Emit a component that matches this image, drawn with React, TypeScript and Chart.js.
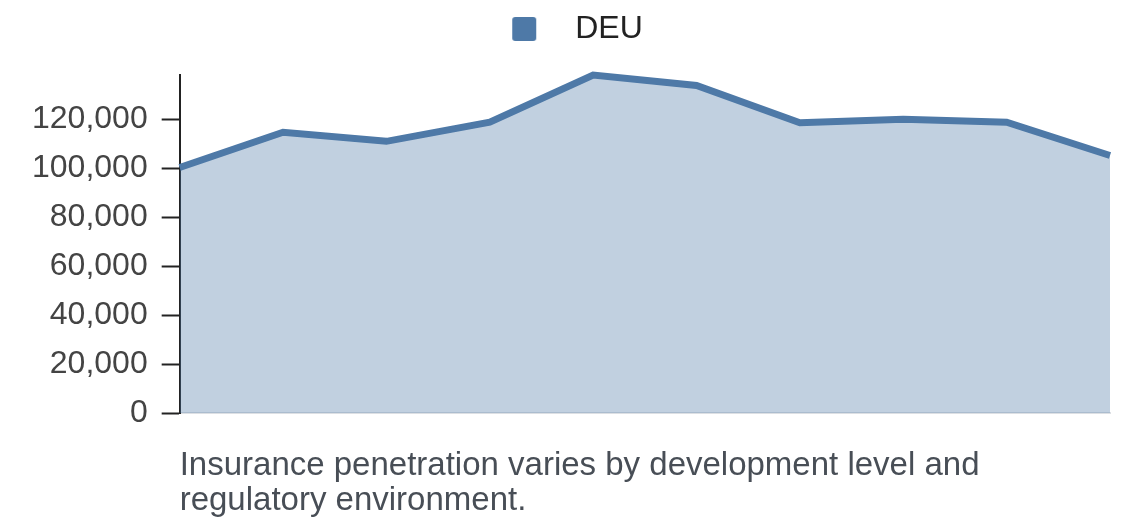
import { useEffect, useRef } from "react"
import { Chart, type ChartConfiguration, registerables } from "chart.js"

Chart.register(...registerables)

// ten unlabeled periods along the x axis
const periods = ["1", "2", "3", "4", "5", "6", "7", "8", "9", "10"]
const seriesName = "DEU"
const deuValues = [100300, 114700, 111000, 118800, 138100, 133800, 118600, 120000, 118800, 105200]
const yTicks = [0, 20000, 40000, 60000, 80000, 100000, 120000]
const caption = [
  "Insurance penetration varies by development level and",
  "regulatory environment.",
]

const BLUE = "#4e79a7"
const FONT = "'Liberation Sans', Arial, Helvetica, sans-serif"

// 24px rounded square inside a wider transparent canvas (used as legend point style)
function legendSwatch() {
  const c = document.createElement("canvas")
  c.width = 36
  c.height = 24
  const g = c.getContext("2d")
  if (g) {
    g.fillStyle = BLUE
    g.beginPath()
    g.roundRect(8, 0, 24, 24, 3)
    g.fill()
  }
  return c
}

// push the plot down a little below the legend
const legendSpacer = {
  id: "legendSpacer",
  beforeInit(chart: any) {
    const fit = chart.legend.fit
    chart.legend.fit = function () {
      fit.bind(chart.legend)()
      this.height += 20
    }
  },
}

export default function App() {
  const chartRef = useRef<HTMLCanvasElement>(null)
  const chartInstance = useRef<Chart | null>(null)

  useEffect(() => {
    document.body.style.margin = "0"
    if (!chartRef.current) return
    const ctx = chartRef.current.getContext("2d")
    if (!ctx) return

    if (chartInstance.current) chartInstance.current.destroy()

    const swatch = legendSwatch()

    const config: ChartConfiguration = {
      type: "line",
      data: {
        labels: periods,
        datasets: [
          {
            label: seriesName,
            data: deuValues,
            borderColor: BLUE,
            backgroundColor: "rgba(78, 121, 167, 0.35)",
            borderWidth: 7,
            borderJoinStyle: "miter",
            tension: 0,
            fill: "origin",
            pointRadius: 0,
            pointStyle: swatch as any,
            clip: false as any,
          },
        ],
      },
      options: {
        animation: false,
        responsive: true,
        maintainAspectRatio: false,
        layout: { padding: { top: 3, left: 18, right: 30, bottom: 10 } },
        scales: {
          x: {
            grid: { display: false, drawTicks: false },
            ticks: { display: false },
            border: { display: true, color: "#dde0e4", width: 2 },
            title: {
              display: true,
              text: caption,
              align: "start",
              color: "#484e56",
              font: { family: FONT, size: 33, lineHeight: 1.06 },
              padding: { top: 35, bottom: 0 },
            },
          },
          y: {
            min: 0,
            max: Math.max(...deuValues),
            afterBuildTicks: (scale) => {
              scale.ticks = yTicks.map((value) => ({ value }))
            },
            grid: {
              drawOnChartArea: false,
              drawTicks: true,
              tickLength: 18,
              tickColor: "#222",
              tickWidth: 2,
            },
            border: { display: true, color: "#222", width: 2 },
            ticks: {
              padding: 14,
              color: "#444",
              font: { family: FONT, size: 32 },
              callback: (v) => Number(v).toLocaleString("en-US"),
            },
          },
        },
        plugins: {
          legend: {
            display: true,
            position: "top",
            labels: {
              usePointStyle: true,
              pointStyleWidth: 74,
              boxHeight: 24,
              padding: 10,
              color: "#222",
              font: { family: FONT, size: 32 },
            },
          },
          tooltip: { enabled: false },
        },
      },
      plugins: [legendSpacer],
    }

    chartInstance.current = new Chart(ctx, config)

    return () => {
      if (chartInstance.current) {
        chartInstance.current.destroy()
        chartInstance.current = null
      }
    }
  }, [])

  return (
    <div style={{ width: 1140, height: 528, position: "relative" }}>
      <canvas ref={chartRef} />
    </div>
  )
}
